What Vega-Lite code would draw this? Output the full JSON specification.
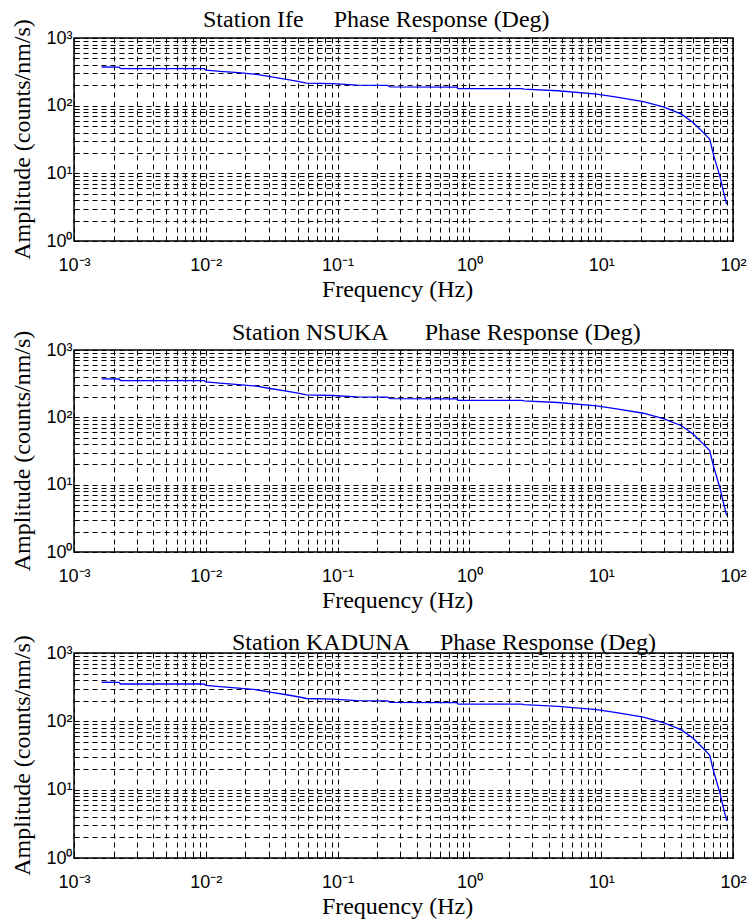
{
  "$schema": "https://vega.github.io/schema/vega-lite/v6.json",
  "background": "white",
  "padding": {"left": 10, "top": 8, "right": 10, "bottom": 2},
  "spacing": 18,
  "datasets": {
    "resp": [
      {"f": 0.00162, "A": 373},
      {"f": 0.0022, "A": 371},
      {"f": 0.00225, "A": 352},
      {"f": 0.0097, "A": 352},
      {"f": 0.0100, "A": 336},
      {"f": 0.0128, "A": 322},
      {"f": 0.0177, "A": 307},
      {"f": 0.0243, "A": 290},
      {"f": 0.0307, "A": 268},
      {"f": 0.041, "A": 245},
      {"f": 0.050, "A": 229},
      {"f": 0.058, "A": 216},
      {"f": 0.092, "A": 211},
      {"f": 0.14, "A": 201},
      {"f": 0.24, "A": 199},
      {"f": 0.25, "A": 190},
      {"f": 0.80, "A": 188},
      {"f": 0.82, "A": 179},
      {"f": 2.5, "A": 178},
      {"f": 2.6, "A": 175},
      {"f": 4.7, "A": 166},
      {"f": 9.25, "A": 148},
      {"f": 13.1, "A": 134},
      {"f": 20.9, "A": 115},
      {"f": 29.6, "A": 96},
      {"f": 40.7, "A": 75},
      {"f": 50, "A": 56},
      {"f": 59.6, "A": 40},
      {"f": 66.5, "A": 32},
      {"f": 71, "A": 19.1},
      {"f": 79.9, "A": 8.7},
      {"f": 84.4, "A": 5.5},
      {"f": 89.5, "A": 3.5}
    ]
  },
  "config": {
    "view": {"stroke": "black", "strokeWidth": 1.5},
    "title": {"font": "Times New Roman, Liberation Serif, DejaVu Serif, serif", "fontSize": 24, "fontWeight": "normal", "color": "black", "baseline": "alphabetic", "frame": "group"},
    "axis": {
      "title": null,
      "grid": true, "gridDash": [5, 4], "gridColor": "black", "gridOpacity": 1, "gridWidth": 1,
      "domain": false, "ticks": true, "tickSize": -5, "tickColor": "black", "tickWidth": 1,
      "labelFont": "Arial, Liberation Sans, sans-serif", "labelFontSize": 18, "labelColor": "black",
      "labelOverlap": false, "labelFlush": false, "labelBound": false
    },
    "axisX": {"labelPadding": 20},
    "axisY": {"labelPadding": 7}
  },
  "vconcat": [
    {
      "title": {"text": "Station Ife\u00a0\u00a0\u00a0\u00a0\u00a0Phase Response (Deg)", "anchor": "start", "offset": -14, "dx": 129},
      "vconcat": [{
        "title": {"text": "Frequency (Hz)", "orient": "bottom", "anchor": "middle", "offset": 3, "dx": 323.5},
        "vconcat": [{
          "width": 659, "height": 203,
          "title": {"text": "Amplitude (counts/nm/s)", "orient": "left", "anchor": "middle", "offset": 11, "font": "Times New Roman, serif"},
          "data": {"name": "resp"},
          "mark": {"type": "line", "color": "#0000ff", "strokeWidth": 1.3},
          "encoding": {
            "x": {"field": "f", "type": "quantitative", "scale": {"type": "log", "domain": [0.001, 100], "nice": false},
              "axis": {"title": null,
                "values": [0.001,0.002,0.003,0.004,0.005,0.006,0.007,0.008,0.009,0.01,0.02,0.03,0.04,0.05,0.06,0.07,0.08,0.09,0.1,0.2,0.3,0.4,0.5,0.6,0.7,0.8,0.9,1,2,3,4,5,6,7,8,9,10,20,30,40,50,60,70,80,90,100],
                "labelExpr": "datum.value===0.001?'10⁻³':datum.value===0.01?'10⁻²':datum.value===0.1?'10⁻¹':datum.value===1?'10⁰':datum.value===10?'10¹':datum.value===100?'10²':''"}},
            "y": {"field": "A", "type": "quantitative", "scale": {"type": "log", "domain": [1, 1000], "nice": false},
              "axis": {"title": null,
                "values": [1,2,3,4,5,6,7,8,9,10,20,30,40,50,60,70,80,90,100,200,300,400,500,600,700,800,900,1000],
                "labelExpr": "datum.value===1?'10⁰':datum.value===10?'10¹':datum.value===100?'10²':datum.value===1000?'10³':''"}}
          }
        }]
      }]
    },
    {
      "title": {"text": "Station NSUKA\u00a0\u00a0\u00a0\u00a0\u00a0\u00a0Phase Response (Deg)", "anchor": "start", "offset": -15, "dx": 158},
      "vconcat": [{
        "title": {"text": "Frequency (Hz)", "orient": "bottom", "anchor": "middle", "offset": 3, "dx": 323.5},
        "vconcat": [{
          "width": 659, "height": 202,
          "title": {"text": "Amplitude (counts/nm/s)", "orient": "left", "anchor": "middle", "offset": 11, "font": "Times New Roman, serif"},
          "data": {"name": "resp"},
          "mark": {"type": "line", "color": "#0000ff", "strokeWidth": 1.3},
          "encoding": {
            "x": {"field": "f", "type": "quantitative", "scale": {"type": "log", "domain": [0.001, 100], "nice": false},
              "axis": {"title": null,
                "values": [0.001,0.002,0.003,0.004,0.005,0.006,0.007,0.008,0.009,0.01,0.02,0.03,0.04,0.05,0.06,0.07,0.08,0.09,0.1,0.2,0.3,0.4,0.5,0.6,0.7,0.8,0.9,1,2,3,4,5,6,7,8,9,10,20,30,40,50,60,70,80,90,100],
                "labelExpr": "datum.value===0.001?'10⁻³':datum.value===0.01?'10⁻²':datum.value===0.1?'10⁻¹':datum.value===1?'10⁰':datum.value===10?'10¹':datum.value===100?'10²':''"}},
            "y": {"field": "A", "type": "quantitative", "scale": {"type": "log", "domain": [1, 1000], "nice": false},
              "axis": {"title": null,
                "values": [1,2,3,4,5,6,7,8,9,10,20,30,40,50,60,70,80,90,100,200,300,400,500,600,700,800,900,1000],
                "labelExpr": "datum.value===1?'10⁰':datum.value===10?'10¹':datum.value===100?'10²':datum.value===1000?'10³':''"}}
          }
        }]
      }]
    },
    {
      "title": {"text": "Station KADUNA\u00a0\u00a0\u00a0\u00a0\u00a0Phase Response (Deg)", "anchor": "start", "offset": -21, "dx": 158},
      "vconcat": [{
        "title": {"text": "Frequency (Hz)", "orient": "bottom", "anchor": "middle", "offset": 3, "dx": 323.5},
        "vconcat": [{
          "width": 659, "height": 205,
          "title": {"text": "Amplitude (counts/nm/s)", "orient": "left", "anchor": "middle", "offset": 11, "font": "Times New Roman, serif"},
          "data": {"name": "resp"},
          "mark": {"type": "line", "color": "#0000ff", "strokeWidth": 1.3},
          "encoding": {
            "x": {"field": "f", "type": "quantitative", "scale": {"type": "log", "domain": [0.001, 100], "nice": false},
              "axis": {"title": null,
                "values": [0.001,0.002,0.003,0.004,0.005,0.006,0.007,0.008,0.009,0.01,0.02,0.03,0.04,0.05,0.06,0.07,0.08,0.09,0.1,0.2,0.3,0.4,0.5,0.6,0.7,0.8,0.9,1,2,3,4,5,6,7,8,9,10,20,30,40,50,60,70,80,90,100],
                "labelExpr": "datum.value===0.001?'10⁻³':datum.value===0.01?'10⁻²':datum.value===0.1?'10⁻¹':datum.value===1?'10⁰':datum.value===10?'10¹':datum.value===100?'10²':''"}},
            "y": {"field": "A", "type": "quantitative", "scale": {"type": "log", "domain": [1, 1000], "nice": false},
              "axis": {"title": null,
                "values": [1,2,3,4,5,6,7,8,9,10,20,30,40,50,60,70,80,90,100,200,300,400,500,600,700,800,900,1000],
                "labelExpr": "datum.value===1?'10⁰':datum.value===10?'10¹':datum.value===100?'10²':datum.value===1000?'10³':''"}}
          }
        }]
      }]
    }
  ]
}
